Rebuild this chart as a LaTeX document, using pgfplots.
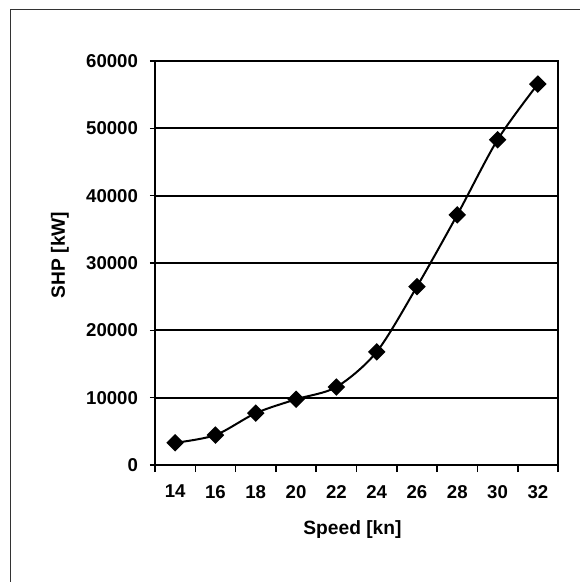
\documentclass[border=0pt]{standalone}
\usepackage{fontspec}
\setmainfont{Liberation Sans}
\usepackage{pgfplots}
\pgfplotsset{compat=1.18}
\begin{document}
\begin{tikzpicture}[x=1pt,y=1pt]
\path[use as bounding box] (-77.5,-58.5) rectangle (212,232.5);
\draw[line width=0.5pt,black!80] (-72,-70) -- (-72,227.5) -- (230,227.5);
\begin{axis}[
  at={(0,0)}, anchor=south west,
  scale only axis,
  width=201.5pt, height=202pt,
  xmin=13, xmax=33, ymin=0, ymax=60000,
  xtick={14,16,...,32},
  minor xtick={13,15,...,33},
  ytick={0,10000,...,60000},
  major x tick style={draw=none},
  minor x tick style={line width=0.8pt,black},
  minor tick length=3.5pt,
  y tick style={line width=0.8pt,black},
  major tick length=2.5pt,
  xtick align=outside, ytick align=outside,
  tick pos=left,
  ymajorgrids,
  grid style={line width=0.9pt,black},
  axis line style={line width=0.7pt,black},
  scaled y ticks=false,
  /pgf/number format/assume math mode=true,
  yticklabel={\pgfmathprintnumber[fixed,use comma=false,1000 sep={}]{\tick}},
  tick label style={font=\bfseries\fontsize{9.3}{10}\selectfont},
  xticklabel style={yshift=-4pt},
  yticklabel style={xshift=-2.5pt},
  xlabel={Speed [kn]},
  ylabel={SHP [kW]},
  label style={font=\bfseries\fontsize{9.6}{11}\selectfont},
  xlabel style={at={(axis description cs:0.49,0)},anchor=center,yshift=-32.5pt},
  ylabel style={at={(axis description cs:-0.2357,0.52)},anchor=center},
]
\addplot[black, line width=1pt, smooth, tension=0.5,
  mark=square*, mark size=2.6pt, mark options={rotate=45,fill=black}]
  coordinates {
  (14,3300) (16,4450) (18,7700) (20,9760) (22,11580)
  (24,16800) (26,26500) (28,37150) (30,48300) (32,56570)
  };
\end{axis}
\end{tikzpicture}
\end{document}
